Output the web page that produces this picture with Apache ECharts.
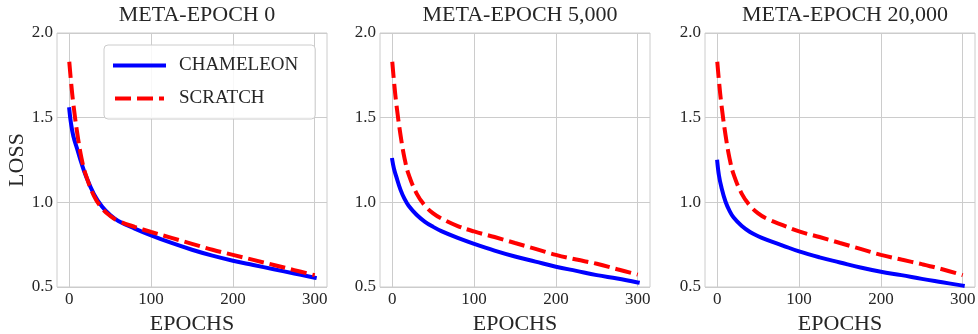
<!DOCTYPE html>
<html>
<head>
<meta charset="utf-8">
<script src="https://cdn.jsdelivr.net/npm/echarts@6/dist/echarts.min.js"></script>
<style>
  html, body { margin: 0; padding: 0; background: #fff; }
  #chart { width: 978px; height: 334px; }
</style>
</head>
<body>
<div id="chart"></div>
<script>
// epochs sampled along the curves
const epochs = [0, 2, 5, 10, 15, 20, 30, 40, 50, 60, 80, 100, 125, 150, 175, 200, 225, 250, 275, 300]

// meta-epoch 0
const chameleon0 = [1.55, 1.47, 1.39, 1.31, 1.23, 1.16, 1.05, 0.975, 0.925, 0.89, 0.845, 0.805, 0.76, 0.72, 0.685, 0.655, 0.63, 0.605, 0.58, 0.555]
const scratch0 = [1.83, 1.72, 1.58, 1.40, 1.26, 1.165, 1.04, 0.965, 0.92, 0.89, 0.855, 0.825, 0.79, 0.755, 0.72, 0.69, 0.66, 0.63, 0.6, 0.57]
// meta-epoch 5,000
const chameleon5k = [1.25, 1.20, 1.15, 1.075, 1.02, 0.98, 0.925, 0.885, 0.855, 0.83, 0.79, 0.755, 0.715, 0.68, 0.65, 0.62, 0.595, 0.57, 0.55, 0.527]
const scratch5k = [1.83, 1.72, 1.58, 1.40, 1.26, 1.165, 1.05, 0.98, 0.935, 0.905, 0.86, 0.828, 0.795, 0.76, 0.725, 0.69, 0.662, 0.637, 0.605, 0.573]
// meta-epoch 20,000
const chameleon20k = [1.24, 1.16, 1.09, 1.005, 0.95, 0.91, 0.86, 0.825, 0.8, 0.78, 0.745, 0.71, 0.675, 0.645, 0.615, 0.59, 0.57, 0.548, 0.528, 0.508]
const scratch20k = [1.83, 1.72, 1.58, 1.40, 1.26, 1.165, 1.05, 0.98, 0.935, 0.905, 0.865, 0.828, 0.795, 0.76, 0.725, 0.69, 0.662, 0.635, 0.605, 0.57]

const panelTitles = ['META-EPOCH 0', 'META-EPOCH 5,000', 'META-EPOCH 20,000']
const xTicks = [0, 100, 200, 300]
const seriesNames = ['CHAMELEON', 'SCRATCH']
const panels = [
  [chameleon0, scratch0],
  [chameleon5k, scratch5k],
  [chameleon20k, scratch20k],
]

const FONT = '"Liberation Serif", "DejaVu Serif", serif'
const TXT = '#262626'
const GRIDC = '#cccccc'
const lefts = [57, 380, 705]
const W = 270

const toPairs = (vals) => epochs.map((e, i) => [e, vals[i]])

const chart = echarts.init(document.getElementById('chart'), null, { renderer: 'canvas' })

const option = {
  backgroundColor: '#fff',
  animation: false,
  title: panelTitles.map((t, i) => ({
    text: t,
    left: lefts[i] + W / 2,
    textAlign: 'center',
    top: -1,
    textStyle: { fontFamily: FONT, fontSize: 22, fontWeight: 'normal', color: TXT },
  })),
  grid: lefts.map((l) => ({
    left: l,
    width: W,
    top: 33,
    height: 254,
    outerBoundsMode: 'none',
    containLabel: false,
    show: true,
    borderColor: GRIDC,
    borderWidth: 1,
    backgroundColor: '#fff',
  })),
  legend: {
    data: seriesNames,
    left: 104,
    top: 45,
    orient: 'vertical',
    padding: [11, 17, 11, 9],
    itemWidth: 49,
    itemHeight: 18,
    itemGap: 14,
    borderColor: GRIDC,
    borderWidth: 1,
    borderRadius: 4,
    backgroundColor: 'rgba(255,255,255,0.85)',
    lineStyle: { width: 4 },
    itemStyle: { opacity: 0 },
    textStyle: { fontFamily: FONT, fontSize: 19, color: TXT, padding: [0, 0, 0, 10] },
  },
  xAxis: lefts.map((l, i) => ({
    type: 'value',
    gridIndex: i,
    min: -15,
    max: 315,
    splitNumber: 3,
    name: 'EPOCHS',
    nameLocation: 'middle',
    nameGap: 24,
    nameTextStyle: { fontFamily: FONT, fontSize: 22, color: TXT },
    axisLine: { show: false },
    axisTick: { show: false, customValues: xTicks },
    axisLabel: { customValues: xTicks, fontFamily: FONT, fontSize: 17, color: TXT, margin: 4 },
    splitLine: { show: true, lineStyle: { color: GRIDC, width: 1 } },
  })),
  yAxis: lefts.map((l, i) => ({
    type: 'value',
    gridIndex: i,
    min: 0.5,
    max: 2.0,
    interval: 0.5,
    name: i === 0 ? 'LOSS' : '',
    nameLocation: 'middle',
    nameGap: 24,
    nameTextStyle: { fontFamily: FONT, fontSize: 22, color: TXT },
    axisLine: { show: false },
    axisTick: { show: false },
    axisLabel: {
      fontFamily: FONT, fontSize: 17, color: TXT, margin: 4,
      formatter: (v) => v.toFixed(1),
    },
    splitLine: { show: true, lineStyle: { color: GRIDC, width: 1 } },
  })),
  series: [],
}

panels.forEach((p, i) => {
  option.series.push({
    name: seriesNames[0],
    type: 'line',
    xAxisIndex: i,
    yAxisIndex: i,
    data: toPairs(p[0]),
    symbol: 'none',
    smooth: 0.4,
    lineStyle: { color: '#0000ff', width: 4, cap: 'square' },
    itemStyle: { color: '#0000ff' },
    z: 3,
  })
  option.series.push({
    name: seriesNames[1],
    type: 'line',
    xAxisIndex: i,
    yAxisIndex: i,
    data: toPairs(p[1]),
    symbol: 'none',
    smooth: 0.4,
    lineStyle: { color: '#ff0000', width: 4, type: [16, 6], cap: 'butt' },
    itemStyle: { color: '#ff0000' },
    z: 4,
  })
})

chart.setOption(option)
</script>
</body>
</html>
